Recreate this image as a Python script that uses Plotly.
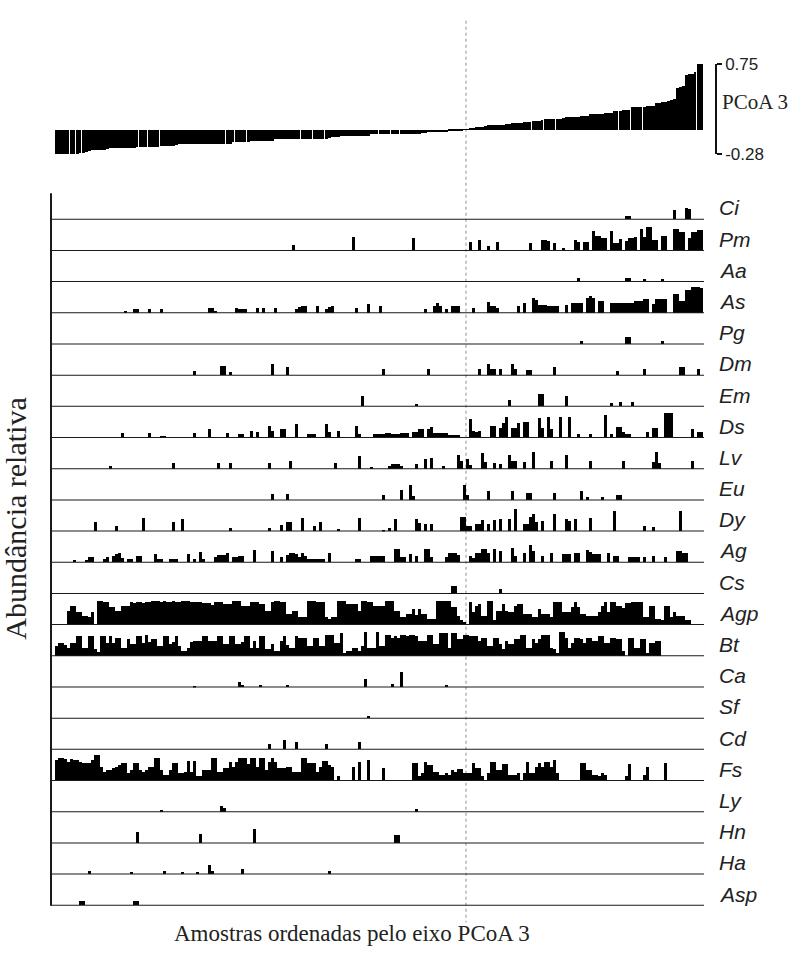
import plotly.graph_objects as go

W, H = 804, 954
N = 216
samples = list(range(N))

# PCoA 3 scores of the samples, sorted ascending
pcoa3 = [
    -0.282, -0.281, -0.280, -0.278, -0.277, -0.276, -0.275, -0.274, -0.272, -0.270,
    -0.252, -0.248, -0.236, -0.233, -0.231, -0.230, -0.228, -0.226,
    -0.214, -0.212, -0.211, -0.210, -0.209, -0.208, -0.207, -0.206, -0.205,
    -0.200, -0.199, -0.198, -0.197, -0.196, -0.195, -0.194, -0.193, -0.192, -0.190, -0.189, -0.188, -0.186,
    -0.170, -0.169, -0.169, -0.168, -0.168, -0.167, -0.167, -0.166, -0.166, -0.165, -0.165, -0.164, -0.164,
    -0.163, -0.163, -0.162, -0.162, -0.161, -0.160,
    -0.140, -0.139, -0.139, -0.138, -0.137, -0.136, -0.135, -0.134, -0.133, -0.132, -0.131, -0.130, -0.129, -0.128,
    -0.110, -0.110, -0.109, -0.109, -0.108, -0.108, -0.107, -0.107, -0.106, -0.106, -0.105, -0.105, -0.104,
    -0.104, -0.103, -0.102, -0.102, -0.101, -0.100,
    -0.080, -0.080, -0.079, -0.078, -0.078, -0.077, -0.076, -0.076, -0.075, -0.074, -0.074, -0.073, -0.072,
    -0.055, -0.054, -0.054, -0.053, -0.052, -0.052, -0.051, -0.050, -0.050, -0.049, -0.048, -0.048, -0.047,
    -0.046, -0.046, -0.045, -0.044,
    -0.035, -0.033, -0.031, -0.030, -0.028, -0.027, -0.026, -0.025, -0.023, -0.021, -0.018, -0.015, -0.012,
    -0.006, -0.002,
    0.005, 0.012, 0.020, 0.026, 0.031, 0.035, 0.040,
    0.048, 0.050, 0.052, 0.054, 0.056, 0.058, 0.060, 0.062,
    0.075, 0.077, 0.078, 0.080, 0.082, 0.083, 0.085,
    0.098, 0.100, 0.103, 0.105,
    0.118, 0.120, 0.121, 0.123, 0.125, 0.126, 0.128,
    0.142, 0.144, 0.146, 0.148, 0.150, 0.152, 0.153, 0.155,
    0.175, 0.177, 0.179, 0.181, 0.183, 0.185, 0.187, 0.190,
    0.210, 0.213, 0.216, 0.219, 0.222, 0.225,
    0.255, 0.257, 0.259, 0.261, 0.263, 0.265, 0.268, 0.270,
    0.305, 0.310, 0.315, 0.320, 0.330, 0.340,
    0.355,
    0.480, 0.490, 0.500,
    0.620, 0.635, 0.640,
    0.655, 0.748, 0.750,
]

# samples whose top-panel bar is drawn narrower (thin white seams seen in the original)
seam_samples = [4, 6, 8, 27, 30, 34, 56, 59, 63, 81, 85, 89, 107, 111, 114,
                158, 162, 166, 187, 191, 195, 213]

# relative abundance per taxon (sample index -> relative level, 10 = full row)
Ci = {190: 1.3, 191: 1.3, 206: 3.3, 210: 3.9, 211: 3.5}
Pm = {79: 2.2, 99: 4.8, 119: 4.6, 138: 3.2, 141: 3.9, 144: 1.9, 147: 3.2, 158: 2.7, 162: 3.9, 163: 3.9,
      164: 3.5, 166: 2.7, 169: 1.3, 173: 3.9, 174: 3.2, 176: 3.2, 177: 3.2, 179: 7.1, 180: 5.2, 181: 5.2,
      182: 4.7, 183: 4.7, 185: 7.1, 186: 3.0, 187: 3.0, 188: 4.3, 190: 3.5, 191: 4.5, 192: 4.5, 193: 5.0,
      195: 7.7, 196: 5.0, 197: 8.2, 198: 8.2, 199: 4.0, 200: 4.0, 202: 5.2, 203: 5.2, 206: 7.7, 207: 7.7,
      208: 6.5, 209: 6.5, 211: 4.4, 212: 6.5, 213: 6.5, 214: 7.2, 215: 7.2}
Aa = {174: 1.6, 190: 1.6, 191: 1.6, 196: 1.3, 202: 1.3}
As = {23: 0.7, 26: 1.4, 27: 1.4, 31: 1.4, 35: 1.4, 51: 2.0, 52: 2.0, 53: 0.9, 60: 2.0, 61: 1.5, 62: 1.4,
      63: 1.4, 67: 2.0, 69: 2.0, 73: 2.0, 80: 1.5, 81: 2.3, 82: 2.6, 83: 2.6, 87: 2.6, 90: 1.5, 91: 2.3,
      92: 2.6, 100: 2.0, 104: 3.1, 108: 2.4, 123: 1.4, 126: 2.5, 127: 3.7, 128: 2.5, 130: 1.4, 132: 2.6,
      133: 2.6, 134: 2.6, 139: 2.0, 144: 4.0, 145: 2.6, 146: 2.6, 147: 1.8, 154: 2.6, 156: 3.7, 159: 5.3,
      160: 4.5, 161: 3.0, 162: 2.8, 163: 2.8, 164: 2.6, 165: 2.6, 166: 2.5, 167: 2.5, 170: 3.0, 172: 3.7,
      173: 3.7, 174: 3.5, 175: 3.7, 177: 5.3, 178: 5.9, 179: 5.3, 181: 4.2, 182: 4.2, 185: 3.7, 186: 3.7,
      187: 3.5, 188: 3.7, 189: 3.7, 190: 3.5, 191: 3.7, 192: 3.7, 193: 4.2, 194: 4.2, 195: 4.2, 196: 4.8,
      197: 4.8, 199: 3.3, 200: 4.8, 201: 4.8, 202: 4.8, 203: 4.8, 206: 6.7, 207: 6.7, 208: 4.2, 209: 4.2,
      210: 8.1, 211: 8.1, 212: 8.9, 213: 8.9, 214: 8.9, 215: 8.5}
Pg = {175: 1.2, 190: 2.6, 191: 2.6, 202: 1.2}
Dm = {46: 1.4, 55: 3.3, 56: 3.3, 58: 1.3, 72: 3.9, 77: 2.8, 109: 2.2, 124: 2.2, 141: 2.2, 144: 3.9,
      145: 2.2, 146: 2.2, 148: 2.2, 152: 3.9, 153: 2.2, 157: 1.9, 158: 1.9, 166: 2.8, 187: 1.4, 196: 2.2,
      208: 2.8, 209: 2.8, 214: 2.2}
Em = {102: 3.6, 120: 0.8, 151: 2.2, 161: 4.1, 162: 4.1, 170: 3.6, 185: 1.1, 188: 1.6, 192: 1.6}
Ds = {22: 1.8, 31: 1.8, 35: 0.9, 36: 0.9, 46: 1.8, 51: 3.1, 57: 1.8, 61: 1.4, 62: 1.4, 65: 2.6, 67: 2.2,
      71: 4.2, 72: 2.6, 75: 3.1, 76: 3.1, 80: 4.8, 84: 1.4, 85: 1.6, 86: 1.4, 90: 4.8, 91: 2.2, 94: 2.6,
      100: 4.2, 101: 1.4, 106: 1.4, 107: 1.4, 108: 1.4, 109: 1.4, 110: 2.0, 111: 2.0, 112: 1.6, 113: 1.4,
      114: 1.4, 115: 2.0, 116: 2.0, 117: 2.0, 119: 2.2, 120: 2.2, 121: 3.1, 122: 3.1, 124: 3.1, 125: 4.0,
      126: 1.8, 127: 1.8, 128: 1.8, 129: 1.8, 130: 1.8, 131: 1.1, 132: 1.1, 133: 1.1, 134: 1.1, 138: 6.7,
      139: 2.6, 140: 2.2, 141: 2.6, 145: 4.2, 146: 4.2, 148: 3.5, 149: 5.3, 150: 7.3, 152: 3.7, 153: 3.7,
      154: 5.3, 156: 5.6, 157: 5.6, 161: 7.0, 162: 3.7, 164: 7.3, 165: 3.1, 168: 7.3, 171: 7.3, 174: 1.4,
      178: 1.4, 183: 7.8, 185: 1.4, 187: 4.0, 188: 4.0, 189: 2.2, 190: 1.4, 191: 1.4, 197: 2.2, 199: 3.7,
      200: 3.7, 203: 8.7, 204: 8.7, 205: 8.7, 212: 3.3, 214: 2.2, 215: 2.2}
Lv = {18: 1.3, 39: 2.2, 54: 2.2, 58: 2.2, 71: 2.2, 78: 3.0, 93: 2.2, 101: 4.4, 105: 0.9, 111: 1.2, 112: 1.8,
      113: 1.8, 114: 1.8, 115: 1.0, 120: 1.9, 123: 3.6, 125: 3.8, 129: 1.1, 134: 4.9, 135: 3.0, 137: 3.6,
      138: 1.6, 142: 5.6, 143: 2.4, 146: 2.2, 148: 1.9, 151: 4.9, 152: 3.0, 153: 3.0, 156: 2.4, 159: 5.8,
      165: 3.0, 170: 4.9, 178: 3.0, 189: 3.0, 199: 2.4, 200: 5.8, 201: 2.2, 212: 2.7}
Eu = {72: 2.2, 77: 2.2, 109: 2.0, 115: 3.7, 118: 5.1, 119: 1.4, 136: 5.1, 137: 2.0, 144: 3.1, 152: 3.1,
      157: 2.6, 158: 2.6, 166: 2.6, 175: 3.1, 177: 1.1, 182: 1.1, 187: 2.0, 188: 2.0}
Dy = {13: 3.3, 20: 2.0, 29: 4.4, 39: 3.1, 42: 4.1, 58: 1.3, 71: 1.3, 75: 2.2, 77: 3.3, 78: 3.3, 82: 4.4,
      86: 1.7, 88: 3.3, 94: 0.8, 101: 4.4, 109: 0.6, 111: 1.0, 113: 4.2, 120: 4.2, 121: 2.8, 123: 2.6,
      125: 2.6, 135: 5.0, 136: 5.0, 137: 2.0, 138: 2.0, 140: 2.6, 141: 2.6, 142: 3.9, 144: 2.6, 146: 3.9,
      148: 4.2, 151: 4.2, 153: 7.6, 156: 2.6, 157: 2.6, 158: 4.8, 159: 5.9, 160: 3.1, 162: 3.7, 166: 5.9,
      170: 4.2, 171: 3.7, 173: 4.2, 178: 4.6, 186: 7.0, 196: 2.0, 199: 1.4, 208: 7.0}
Ag = {6: 0.8, 10: 0.8, 11: 1.7, 12: 1.7, 16: 1.2, 17: 1.7, 19: 2.2, 20: 3.0, 21: 3.3, 22: 1.5, 24: 1.3,
      25: 1.3, 27: 2.2, 28: 2.2, 33: 2.8, 34: 1.1, 35: 1.1, 38: 1.3, 39: 1.3, 40: 1.3, 44: 2.8, 46: 1.3,
      48: 3.6, 49: 1.1, 53: 1.7, 54: 2.4, 55: 2.4, 56: 2.4, 57: 3.3, 59: 1.7, 60: 1.7, 61: 2.2, 62: 2.2,
      66: 4.2, 72: 3.9, 75: 1.7, 77: 2.5, 78: 3.3, 79: 3.3, 80: 3.0, 81: 2.0, 82: 3.3, 83: 2.2, 84: 1.1,
      85: 1.1, 86: 1.1, 87: 1.1, 88: 1.1, 89: 1.1, 91: 3.3, 100: 1.1, 101: 1.1, 105: 2.2, 106: 2.2,
      107: 2.2, 108: 2.2, 109: 2.2, 113: 4.4, 114: 4.4, 115: 1.7, 116: 1.7, 118: 2.8, 120: 2.2, 123: 4.4,
      124: 4.4, 125: 1.7, 130: 2.0, 131: 3.1, 132: 3.1, 133: 3.1, 134: 2.5, 138: 2.2, 139: 1.5, 140: 3.3,
      141: 3.3, 142: 4.4, 143: 4.4, 144: 3.3, 146: 4.4, 148: 3.9, 152: 5.0, 153: 2.2, 156: 3.3, 158: 5.8,
      159: 3.9, 162: 2.2, 165: 3.3, 169: 2.8, 170: 2.8, 171: 2.8, 173: 3.3, 174: 3.3, 177: 4.2, 178: 3.5,
      179: 3.0, 180: 2.8, 181: 2.8, 184: 3.3, 186: 2.2, 187: 2.2, 191: 1.7, 192: 1.7, 193: 1.7, 194: 1.7,
      196: 1.7, 199: 2.2, 203: 1.7, 207: 3.9, 208: 3.9, 209: 3.3, 210: 3.3}
Cs = {132: 2.8, 133: 2.8, 148: 1.9}
Agp = {4: 4.8, 5: 6.7, 6: 6.7, 7: 4.4, 8: 4.4, 9: 3.3, 10: 3.3, 11: 3.0, 12: 4.4, 14: 8.3, 15: 8.3,
       16: 7.8, 17: 7.8, 18: 6.1, 19: 6.1, 20: 5.0, 21: 5.0, 22: 6.7, 23: 6.7, 24: 6.7, 25: 7.8, 26: 7.5,
       27: 8.0, 28: 7.8, 29: 7.5, 30: 7.8, 31: 8.0, 32: 8.3, 33: 8.3, 34: 8.3, 35: 7.8, 36: 8.3, 37: 7.8,
       38: 8.0, 39: 8.3, 40: 7.8, 41: 8.0, 42: 8.3, 43: 8.3, 44: 8.3, 45: 7.8, 46: 7.8, 47: 7.8, 48: 7.8,
       49: 7.5, 50: 7.5, 51: 7.5, 52: 7.0, 53: 8.1, 54: 8.1, 55: 8.1, 56: 7.2, 57: 7.2, 58: 7.2, 59: 8.3,
       60: 8.3, 61: 8.3, 62: 6.7, 63: 6.7, 64: 6.7, 65: 7.8, 66: 7.8, 67: 7.8, 68: 7.2, 69: 7.2, 70: 5.0,
       71: 5.0, 72: 8.0, 73: 8.3, 74: 8.3, 75: 7.8, 76: 7.8, 77: 3.9, 78: 3.9, 79: 5.0, 80: 5.0, 81: 2.8,
       82: 2.8, 83: 2.8, 84: 8.3, 85: 8.3, 86: 8.3, 87: 7.8, 88: 7.8, 89: 7.8, 90: 2.8, 91: 2.2, 92: 2.8,
       93: 2.8, 94: 8.3, 95: 8.3, 96: 8.3, 97: 7.2, 98: 7.2, 99: 7.2, 100: 7.2, 101: 5.0, 102: 8.3,
       103: 8.3, 104: 7.8, 105: 7.8, 106: 6.7, 107: 6.7, 108: 6.7, 109: 6.7, 110: 8.3, 111: 8.3, 112: 8.3,
       113: 5.0, 114: 5.0, 115: 2.8, 116: 2.8, 117: 3.9, 118: 3.9, 119: 5.6, 120: 3.5, 121: 5.6, 122: 3.9,
       123: 3.9, 124: 2.2, 125: 2.2, 126: 2.2, 127: 8.3, 128: 8.3, 129: 8.3, 130: 8.3, 131: 8.3, 132: 6.1,
       133: 6.1, 134: 3.3, 135: 1.7, 136: 1.0, 138: 7.8, 139: 4.4, 140: 6.7, 141: 7.2, 142: 3.3, 143: 3.3,
       144: 8.3, 145: 8.3, 146: 1.7, 147: 5.0, 148: 5.0, 149: 7.2, 150: 5.0, 151: 4.4, 152: 4.4, 153: 6.5,
       154: 7.2, 155: 7.2, 156: 3.9, 157: 3.9, 158: 3.9, 159: 2.8, 160: 2.8, 161: 5.6, 162: 3.9, 163: 3.9,
       164: 3.9, 165: 3.0, 166: 7.8, 167: 7.8, 168: 7.8, 169: 4.4, 170: 4.4, 171: 4.4, 172: 6.1, 173: 7.8,
       174: 6.1, 175: 3.9, 176: 3.9, 177: 3.3, 178: 3.3, 179: 3.3, 180: 3.3, 181: 4.4, 182: 6.7, 183: 7.8,
       184: 4.4, 185: 7.8, 186: 7.8, 187: 6.7, 188: 6.7, 189: 6.0, 190: 7.5, 191: 7.5, 192: 7.8, 193: 7.8,
       194: 7.8, 195: 7.8, 196: 2.8, 197: 2.8, 198: 6.7, 199: 6.7, 200: 2.2, 201: 2.2, 202: 2.0, 203: 6.7,
       204: 6.7, 205: 3.0, 206: 4.4, 207: 3.3, 208: 3.3, 209: 3.3, 210: 1.7, 211: 1.7}
Bt = {0: 3.5, 1: 4.7, 2: 4.7, 3: 4.0, 4: 3.0, 5: 4.4, 6: 4.4, 7: 6.9, 8: 6.9, 9: 3.0, 10: 3.0, 11: 6.9,
      12: 6.9, 13: 2.4, 14: 1.5, 15: 6.9, 16: 6.9, 17: 4.7, 18: 6.9, 19: 4.7, 20: 6.3, 21: 6.3, 22: 3.0,
      23: 3.0, 24: 5.8, 25: 4.1, 26: 4.1, 27: 6.9, 28: 6.9, 29: 4.7, 30: 7.4, 31: 5.0, 32: 5.8, 33: 5.8,
      34: 3.6, 35: 3.6, 36: 6.9, 37: 6.9, 38: 4.1, 39: 5.0, 40: 6.9, 41: 3.6, 42: 2.0, 43: 2.0, 44: 3.0,
      45: 5.0, 46: 5.2, 47: 5.2, 48: 5.2, 49: 6.9, 50: 6.9, 51: 5.2, 52: 5.2, 53: 5.2, 54: 6.9, 55: 6.9,
      56: 4.1, 57: 4.1, 58: 6.9, 59: 6.9, 60: 4.1, 61: 4.1, 62: 5.0, 63: 6.9, 64: 6.9, 65: 3.0, 66: 5.2,
      67: 3.0, 68: 6.9, 69: 6.9, 70: 2.4, 71: 2.4, 72: 4.1, 73: 1.8, 74: 1.8, 75: 5.2, 76: 6.9, 77: 4.0,
      78: 3.0, 79: 3.0, 80: 6.9, 81: 6.3, 82: 6.3, 83: 6.3, 84: 3.6, 85: 3.6, 86: 6.3, 87: 6.3, 88: 3.6,
      89: 3.6, 90: 7.4, 91: 7.4, 92: 7.4, 93: 4.7, 94: 4.7, 95: 8.0, 96: 1.0, 97: 1.8, 98: 1.8, 99: 3.0,
      100: 3.0, 101: 2.0, 102: 3.6, 103: 8.3, 104: 3.0, 105: 3.0, 106: 3.0, 107: 8.3, 108: 3.6, 109: 3.6,
      110: 7.4, 111: 7.4, 112: 6.3, 113: 7.0, 114: 6.3, 115: 7.4, 116: 7.4, 117: 7.0, 118: 7.4, 119: 7.4,
      120: 7.0, 121: 5.2, 122: 5.2, 123: 5.2, 124: 7.4, 125: 7.4, 126: 4.1, 127: 4.1, 128: 8.0, 129: 8.0,
      130: 8.0, 131: 3.0, 132: 8.0, 133: 8.0, 134: 5.8, 135: 5.8, 136: 7.4, 137: 7.4, 138: 6.9, 139: 6.9,
      140: 6.9, 141: 5.2, 142: 6.3, 143: 6.3, 144: 3.6, 145: 3.6, 146: 6.3, 147: 6.3, 148: 4.1, 149: 2.4,
      150: 5.2, 151: 4.1, 152: 4.1, 153: 5.8, 154: 5.8, 155: 7.4, 156: 7.4, 157: 3.0, 158: 3.0, 159: 5.8,
      160: 4.5, 161: 5.8, 162: 7.4, 163: 7.4, 164: 7.4, 165: 3.0, 166: 2.4, 167: 1.0, 168: 8.3, 169: 8.3,
      170: 6.3, 171: 3.0, 172: 4.7, 173: 6.3, 174: 6.3, 175: 5.8, 176: 4.5, 177: 6.3, 178: 6.3, 179: 5.2,
      180: 5.2, 181: 6.9, 182: 6.9, 183: 4.7, 184: 4.7, 185: 6.3, 186: 6.3, 187: 5.8, 188: 5.8, 189: 2.0,
      191: 6.3, 192: 6.3, 193: 3.0, 194: 3.0, 195: 5.8, 196: 5.8, 197: 1.0, 198: 4.7, 199: 4.7, 200: 5.2,
      201: 5.2}
Ca = {46: 0.6, 61: 1.9, 62: 0.8, 68: 0.8, 77: 0.8, 103: 2.8, 112: 1.3, 115: 5.2, 130: 0.8}
Sf = {104: 0.8}
Cd = {71: 2.0, 76: 3.3, 80: 2.6, 90: 2.0, 101: 2.6}
Fs = {0: 7.2, 1: 7.8, 2: 7.8, 3: 7.5, 4: 6.5, 5: 7.5, 6: 7.2, 7: 7.2, 8: 6.5, 9: 6.4, 10: 6.4, 11: 6.4,
      12: 7.2, 13: 8.9, 14: 8.9, 15: 5.0, 16: 3.3, 17: 3.9, 18: 3.9, 19: 4.5, 20: 5.0, 21: 5.6, 22: 6.1,
      23: 6.1, 24: 2.8, 25: 4.0, 26: 6.1, 27: 6.1, 28: 3.9, 29: 3.3, 30: 3.9, 31: 5.0, 32: 5.0, 33: 7.8,
      34: 7.8, 35: 3.9, 36: 2.2, 37: 2.2, 38: 4.0, 39: 6.1, 40: 6.1, 41: 2.8, 42: 2.8, 43: 3.3, 44: 7.0,
      45: 3.3, 46: 6.9, 47: 1.7, 48: 1.7, 49: 3.9, 50: 3.9, 51: 3.9, 52: 7.8, 53: 7.8, 54: 3.3, 55: 3.3,
      56: 4.4, 57: 4.4, 58: 6.7, 59: 5.0, 60: 6.7, 61: 7.8, 62: 7.8, 63: 7.8, 64: 6.0, 65: 7.8, 66: 7.8,
      67: 5.0, 68: 7.8, 69: 7.8, 70: 4.0, 71: 6.7, 72: 7.8, 73: 6.7, 74: 4.4, 75: 4.4, 76: 4.4, 77: 5.0,
      78: 5.0, 79: 3.3, 80: 3.3, 81: 3.3, 82: 8.0, 83: 8.0, 84: 6.1, 85: 6.1, 86: 6.1, 87: 3.3, 88: 5.0,
      89: 6.9, 90: 6.9, 91: 5.6, 92: 5.0, 94: 1.7, 99: 5.0, 101: 6.7, 104: 7.2, 109: 4.4, 119: 6.1,
      120: 6.1, 121: 2.0, 122: 3.0, 123: 6.7, 124: 5.6, 125: 5.6, 126: 3.3, 127: 3.3, 128: 2.2, 129: 2.2,
      130: 2.8, 131: 2.2, 132: 3.9, 133: 3.3, 134: 4.2, 135: 4.2, 136: 2.8, 137: 2.8, 138: 2.8, 139: 6.1,
      140: 4.4, 141: 4.4, 142: 2.0, 144: 3.0, 145: 6.7, 146: 6.7, 147: 3.9, 148: 3.9, 149: 5.8, 150: 5.8,
      151: 2.2, 152: 2.2, 153: 2.2, 154: 2.8, 156: 3.0, 157: 6.7, 158: 2.8, 159: 2.8, 160: 5.0, 161: 6.1,
      162: 5.0, 163: 6.7, 164: 6.7, 165: 5.0, 166: 7.2, 167: 2.8, 175: 6.4, 176: 6.4, 177: 3.9, 178: 3.9,
      179: 2.2, 180: 2.2, 181: 1.8, 182: 2.8, 183: 2.2, 190: 2.0, 191: 5.8, 196: 2.2, 197: 5.0, 203: 6.4}
Ly = {35: 0.9, 55: 2.2, 56: 1.5, 120: 1.3}
Hn = {27: 3.9, 48: 3.3, 66: 4.8, 113: 2.8, 114: 2.8}
Ha = {11: 1.1, 25: 0.8, 36: 1.3, 42: 0.8, 47: 0.8, 51: 3.1, 52: 1.3, 62: 2.0, 91: 1.1}
Asp = {8: 1.4, 9: 1.4, 26: 1.4, 27: 1.4}

taxa = ["Ci", "Pm", "Aa", "As", "Pg", "Dm", "Em", "Ds", "Lv", "Eu", "Dy", "Ag", "Cs",
        "Agp", "Bt", "Ca", "Sf", "Cd", "Fs", "Ly", "Hn", "Ha", "Asp"]
taxa_values = [Ci, Pm, Aa, As, Pg, Dm, Em, Ds, Lv, Eu, Dy, Ag, Cs,
               Agp, Bt, Ca, Sf, Cd, Fs, Ly, Hn, Ha, Asp]

# ---------------- layout geometry (pixels) ----------------
def px(x):
    return x / W

def py(y):
    return 1 - y / H

X_LEFT, X_RIGHT = 51, 704
FIRST_BASE, LAST_BASE = 215, 915
ROW_STEP = (LAST_BASE - FIRST_BASE) / (len(taxa) - 1)
ROW_H = 30
DOT_X = 466

SERIF = "Liberation Serif, Times New Roman, serif"
SANS = "Liberation Sans, Arial, sans-serif"

fig = go.Figure()

seams = set(seam_samples)
top_widths = [0.5 if i in seams else 1.0 for i in samples]
fig.add_trace(go.Bar(x=samples, y=pcoa3, xaxis="x", yaxis="y", width=top_widths,
                     marker=dict(color="black", line=dict(width=0)), showlegend=False))

layout = dict(
    width=W, height=H, margin=dict(l=0, r=0, t=0, b=0),
    paper_bgcolor="white", plot_bgcolor="rgba(0,0,0,0)",
    barmode="overlay", bargap=0, showlegend=False,
    xaxis=dict(domain=[px(X_LEFT), px(X_RIGHT)], range=[-1.833, 215.833], visible=False,
               fixedrange=True),
    yaxis=dict(domain=[py(148), py(56)], range=[-0.28, 0.75], side="right", anchor="free",
               position=px(716), showline=True, linecolor="#111", linewidth=1.5,
               ticks="outside", ticklen=5, tickwidth=1.5, tickcolor="#111",
               tickvals=[-0.28, 0.75], ticktext=["-0.28", "0.75"],
               tickfont=dict(family=SANS, size=17, color="#222"),
               showgrid=False, zeroline=False),
)

shapes = []
annotations = []

for k, (name, vals) in enumerate(zip(taxa, taxa_values)):
    base = FIRST_BASE + k * ROW_STEP
    ax = f"yaxis{k + 2}"
    ref = f"y{k + 2}"
    layout[ax] = dict(domain=[py(base), py(base - ROW_H)], range=[0, 10], visible=False,
                      fixedrange=True)
    fig.add_trace(go.Bar(x=samples, y=[vals.get(i, 0) for i in samples], xaxis="x", yaxis=ref,
                         width=1.0, marker=dict(color="black", line=dict(width=0)),
                         showlegend=False))
    shapes.append(dict(type="line", xref="paper", yref=ref, x0=px(X_LEFT), x1=px(X_RIGHT),
                       y0=0, y1=0, line=dict(color="#1a1a1a", width=2), layer="above"))
    annotations.append(dict(text=f"<i>{name}</i>", xref="paper", yref="paper",
                            x=px(717), y=py(base - 12), xanchor="left", yanchor="middle",
                            showarrow=False,
                            font=dict(family=SANS, size=21, color="#222")))

# left axis line
shapes.append(dict(type="line", xref="paper", yref="paper", x0=px(X_LEFT), x1=px(X_LEFT),
                   y0=py(188), y1=py(LAST_BASE), line=dict(color="#1a1a1a", width=2)))
# dotted reference line (PCoA 3 = 0)
shapes.append(dict(type="line", xref="paper", yref="paper", x0=px(DOT_X), x1=px(DOT_X),
                   y0=py(12), y1=py(932), line=dict(color="#b5b5b5", width=1.5, dash="dot"),
                   layer="below"))

annotations += [
    dict(text="PCoA 3", xref="paper", yref="paper", x=px(720), y=py(95), xanchor="left",
         yanchor="middle", showarrow=False,
         font=dict(family=SERIF, size=21, color="#222")),
    dict(text="Amostras ordenadas pelo eixo PCoA 3", xref="paper", yref="paper",
         x=px(352), y=py(943), xanchor="center", yanchor="middle", showarrow=False,
         font=dict(family=SERIF, size=23, color="#222")),
    dict(text="Abundância relativa", xref="paper", yref="paper", x=px(16), y=py(520),
         xanchor="center", yanchor="middle", textangle=-90, showarrow=False,
         font=dict(family=SERIF, size=30, color="#222")),
]

layout["shapes"] = shapes
layout["annotations"] = annotations
fig.update_layout(**layout)

fig.write_html("out.html", include_plotlyjs=True, config={"displayModeBar": False})
